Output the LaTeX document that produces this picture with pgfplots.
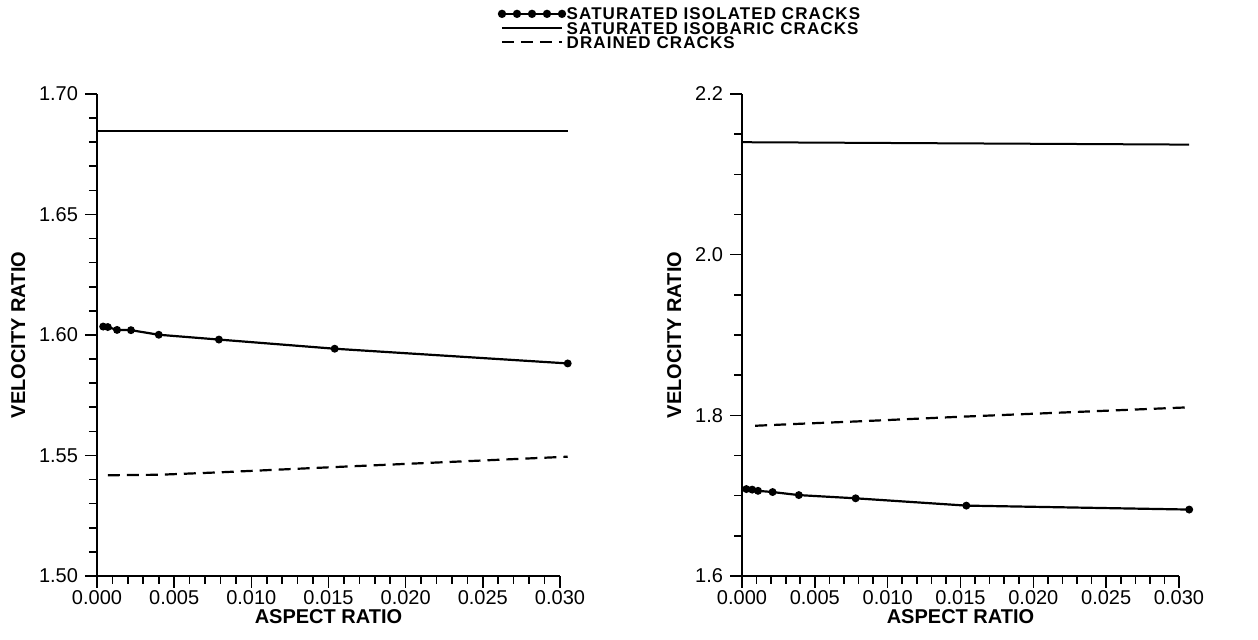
\documentclass[border=0pt]{standalone}
\usepackage{fontspec}
\setmainfont{Liberation Sans}
\newfontfamily\legfont[LetterSpace=6.5]{Liberation Sans}
\usepackage{pgfplots}
\pgfplotsset{compat=1.18}

\pgfplotstableread{
x y
0.0004 1.6035
0.0007 1.6033
0.0013 1.6021
0.0022 1.6020
0.0040 1.6001
0.0079 1.5981
0.0154 1.5943
0.0305 1.5882
}\leftiso
\pgfplotstableread{
x y
0.0000 1.6846
0.0305 1.6846
}\leftbar
\pgfplotstableread{
x y
0.0007 1.5418
0.0040 1.5420
0.0079 1.5430
0.0154 1.5452
0.0305 1.5495
}\leftdrain
\pgfplotstableread{
x y
0.0003 1.7082
0.0007 1.7075
0.0011 1.7060
0.0021 1.7045
0.0039 1.7007
0.0078 1.6967
0.0154 1.6876
0.0307 1.6827
}\rightiso
\pgfplotstableread{
x y
0.0000 2.1400
0.0307 2.1370
}\rightbar
\pgfplotstableread{
x y
0.0009 1.7870
0.0040 1.7895
0.0080 1.7925
0.0147 1.7980
0.0307 1.8100
}\rightdrain

\pgfplotsset{
  common/.style={
    scale only axis, height=241pt,
    axis x line=bottom, axis y line=left,
    axis line style={-, line width=0.9pt},
    tick align=outside, major tick length=6pt, minor tick length=4pt,
    every tick/.style={line width=0.8pt, black},
    minor tick style={line width=0.8pt, black},
    xmin=0, xmax=0.030,
    xtick={0,0.005,0.010,0.015,0.020,0.025,0.030}, minor x tick num=4,
    scaled x ticks=false, scaled y ticks=false,
    xticklabel style={/pgf/number format/.cd, fixed, fixed zerofill, precision=3},
    xticklabel shift=-2.5pt,
    /pgf/number format/assume math mode=true,
    ticklabel style={font=\fontsize{10}{12}\selectfont},
    label style={font=\bfseries\fontsize{10}{12}\selectfont},
    xlabel={ASPECT RATIO}, ylabel={VELOCITY RATIO},
    xlabel style={yshift=4pt},
    clip=false,
  },
  iso/.style={black, line width=1.1pt, mark=*, mark size=1.4pt},
  bar/.style={black, line width=1pt, no marks},
  drain/.style={black, line width=1.1pt, no marks, dash pattern=on 6pt off 3.5pt},
}

\begin{document}
\begin{tikzpicture}
\path (-48.5pt,-32pt) rectangle (580.5pt,288pt);
\begin{axis}[common, width=231.5pt, at={(0pt,0pt)},
  ymin=1.5, ymax=1.7, ytick={1.50,1.55,1.60,1.65,1.70}, minor y tick num=4,
  yticklabel style={/pgf/number format/.cd, fixed, fixed zerofill, precision=2},
  legend style={at={(0.865,1.181)}, anchor=north west, draw=none, fill=none,
    font=\legfont\bfseries\fontsize{8.5}{8.5}\selectfont, inner sep=0pt, row sep=0.4pt,
    nodes={inner sep=0.3pt, text height=6.1pt, text depth=0pt}},
  legend cell align=left,
]
\addplot[iso, legend image code/.code={
  \draw[black, line width=1.1pt] (0pt,0pt) -- (30pt,0pt);
  \foreach \k in {0,7.5,15,22.5,30} {\fill[black] (\k pt,0pt) circle (1.5pt);}
}] table {\leftiso};
\addlegendentry{SATURATED ISOLATED CRACKS}
\addplot[bar, legend image code/.code={\draw[black, line width=1pt] (0pt,0pt) -- (30pt,0pt);}] table {\leftbar};
\addlegendentry{SATURATED ISOBARIC CRACKS}
\addplot[drain, legend image code/.code={\draw[black, line width=1.1pt, dash pattern=on 6pt off 3.5pt] (0pt,0pt) -- (30pt,0pt);}] table {\leftdrain};
\addlegendentry{DRAINED CRACKS}
\end{axis}
\begin{axis}[common, width=218.5pt, at={(322.5pt,0pt)},
  ymin=1.6, ymax=2.2, ytick={1.6,1.8,2.0,2.2}, minor y tick num=3,
  yticklabel style={/pgf/number format/.cd, fixed, fixed zerofill, precision=1},
]
\addplot[iso] table {\rightiso};
\addplot[bar] table {\rightbar};
\addplot[drain] table {\rightdrain};
\end{axis}
\end{tikzpicture}
\end{document}
